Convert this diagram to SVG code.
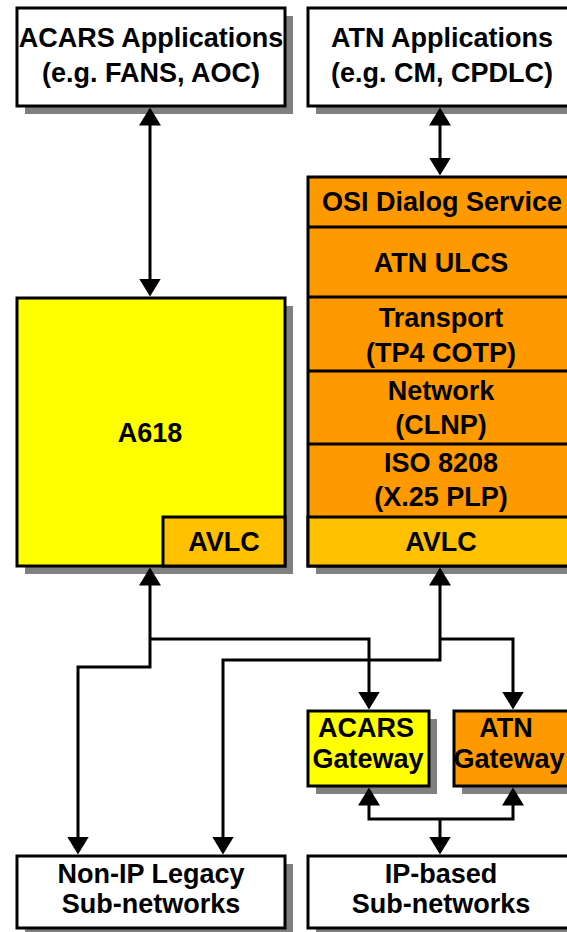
<svg xmlns="http://www.w3.org/2000/svg" width="567" height="932" viewBox="0 0 567 932">
<style>
.box{stroke:#000;stroke-width:3}
.w{fill:#fff}.y{fill:#ffff00}.o{fill:#ff9900}.a{fill:#ffc000}
.sh{fill:#808080}
.div{stroke:#000;stroke-width:3}
text{font-family:"Liberation Sans",Arial,Helvetica,sans-serif;font-weight:bold;font-size:27px;text-anchor:middle;fill:#000}
.con{fill:none;stroke:#000;stroke-width:3;stroke-linejoin:miter}
</style>
<defs>
<marker id="ah" markerUnits="userSpaceOnUse" markerWidth="18" markerHeight="22" viewBox="0 0 18 22" refX="15" refY="11" orient="auto-start-reverse">
<path d="M0,0 L18,11 L0,22 z" fill="#000"/>
</marker>
</defs>
<rect width="567" height="932" fill="#fff"/>

<g id="acars-applications">
<rect class="sh" x="25" y="16" width="268" height="98"/>
<rect class="box w" x="17" y="8" width="268" height="98"/>
<text x="151" y="47">ACARS Applications</text>
<text x="151" y="82">(e.g. FANS, AOC)</text>
</g>

<g id="atn-applications">
<rect class="sh" x="316" y="16" width="272" height="98"/>
<rect class="box w" x="308" y="8" width="272" height="98"/>
<text x="442" y="47">ATN Applications</text>
<text x="442" y="82">(e.g. CM, CPDLC)</text>
</g>

<g id="a618">
<rect class="sh" x="25" y="306" width="268" height="268"/>
<rect class="box y" x="17" y="298" width="268" height="268"/>
<text x="150" y="442">A618</text>
</g>
<g id="a618-avlc">
<rect class="box a" x="163" y="517" width="122" height="49"/>
<text x="224" y="551">AVLC</text>
</g>

<g id="atn-stack">
<rect class="sh" x="316" y="185" width="272" height="389"/>
<rect class="box o" x="308" y="177" width="272" height="389"/>
<rect class="box a" x="308" y="517" width="272" height="49"/>
<line class="div" x1="308" y1="227" x2="580" y2="227"/>
<line class="div" x1="308" y1="297" x2="580" y2="297"/>
<line class="div" x1="308" y1="371" x2="580" y2="371"/>
<line class="div" x1="308" y1="444" x2="580" y2="444"/>
</g>
<g id="osi-dialog"><text x="442" y="211">OSI Dialog Service</text></g>
<g id="atn-ulcs"><text x="441" y="272">ATN ULCS</text></g>
<g id="transport"><text x="441" y="327">Transport</text><text x="441" y="362">(TP4 COTP)</text></g>
<g id="network"><text x="441" y="400">Network</text><text x="441" y="434">(CLNP)</text></g>
<g id="iso8208"><text x="441" y="472">ISO 8208</text><text x="441" y="506">(X.25 PLP)</text></g>
<g id="atn-avlc"><text x="441" y="551">AVLC</text></g>

<g id="acars-gateway">
<rect class="sh" x="316" y="719" width="121" height="75"/>
<rect class="box y" x="308" y="711" width="121" height="75"/>
<text x="366" y="737">ACARS</text>
<text x="368" y="768">Gateway</text>
</g>

<g id="atn-gateway">
<rect class="sh" x="462" y="719" width="126" height="75"/>
<rect class="box o" x="454" y="711" width="126" height="75"/>
<text x="506" y="737">ATN</text>
<text x="509" y="768">Gateway</text>
</g>

<g id="non-ip">
<rect class="sh" x="25" y="864" width="268" height="72"/>
<rect class="box w" x="17" y="856" width="268" height="72"/>
<text x="151" y="883">Non-IP Legacy</text>
<text x="151" y="913">Sub-networks</text>
</g>

<g id="ip-based">
<rect class="sh" x="316" y="864" width="272" height="72"/>
<rect class="box w" x="308" y="856" width="272" height="72"/>
<text x="441" y="883">IP-based</text>
<text x="441" y="913">Sub-networks</text>
</g>

<g id="connectors">
<path class="con" d="M150,110.5 V293.5" marker-start="url(#ah)" marker-end="url(#ah)"/>
<path class="con" d="M440,110.5 V172.5" marker-start="url(#ah)" marker-end="url(#ah)"/>
<path class="con" d="M78,851.5 V667 H150 V570.5" marker-start="url(#ah)" marker-end="url(#ah)"/>
<path class="con" d="M150,639 H369 V706.5" marker-end="url(#ah)"/>
<path class="con" d="M223,851.5 V660 H440 V570.5" marker-start="url(#ah)" marker-end="url(#ah)"/>
<path class="con" d="M440,639 H513 V706.5" marker-end="url(#ah)"/>
<path class="con" d="M369,790.5 V819 H513 V790.5" marker-start="url(#ah)" marker-end="url(#ah)"/>
<path class="con" d="M440,819 V851.5" marker-end="url(#ah)"/>
</g>
</svg>
